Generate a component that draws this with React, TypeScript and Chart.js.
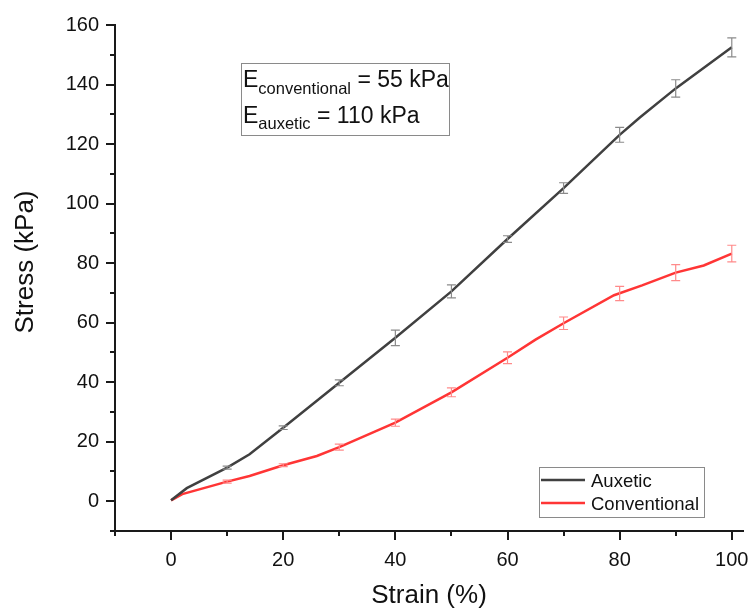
import { useEffect, useRef } from "react";
import { Chart, registerables } from "chart.js";
Chart.register(...registerables);

const auxeticStrain = [0, 2.8, 10, 14, 20, 30, 40, 50, 60, 70, 80, 83.6, 90, 100];
const auxeticStress = [0.3, 4.4, 11.3, 15.8, 24.7, 39.8, 54.9, 70.5, 88.1, 105.2, 123.1, 128.9, 138.7, 152.5];
const conventionalStrain = [0, 2, 10, 14, 20, 26, 30, 40, 50, 60, 65, 70, 79, 84, 90, 95, 100];
const conventionalStress = [0.3, 2.4, 6.6, 8.5, 12.1, 15.2, 18.2, 26.4, 36.6, 48.2, 54.3, 59.8, 69.2, 72.5, 76.8, 79.2, 83.2];

const errorStrain = [10, 20, 30, 40, 50, 60, 70, 80, 90, 100];
const auxeticMean = [11.3, 24.7, 39.8, 54.9, 70.5, 88.1, 105.2, 123.1, 138.7, 152.5];
const auxeticError = [0.5, 0.6, 1, 2.6, 2.2, 1.1, 1.8, 2.5, 2.9, 3.2];
const conventionalMean = [6.6, 12.1, 18.2, 26.4, 36.6, 48.2, 59.8, 69.8, 76.8, 83.2];
const conventionalError = [0.5, 0.5, 1, 1.2, 1.5, 2, 2.1, 2.4, 2.7, 2.8];

const xMajorTicks = [0, 20, 40, 60, 80, 100];
const xMinorTicks = [-10, 10, 30, 50, 70, 90];
const yMajorTicks = [0, 20, 40, 60, 80, 100, 120, 140, 160];
const yMinorTicks = [-10, 10, 30, 50, 70, 90, 110, 130, 150];

const seriesLabels = ["Auxetic", "Conventional"];
const FONT = "'Liberation Sans', Arial, sans-serif";
const AUX_COLOR = "#404040";
const CON_COLOR = "#ff3535";

const overlay = {
  id: "overlay",
  afterDatasetsDraw(chart: any) {
    const ctx = chart.ctx as CanvasRenderingContext2D;
    const xs = chart.scales.x;
    const ys = chart.scales.y;
    const area = chart.chartArea;
    ctx.save();
    ctx.strokeStyle = "#1a1a1a";
    ctx.lineWidth = 2;
    const axisX = area.left;
    const axisY = area.bottom;
    xMajorTicks.forEach((v) => {
      const p = Math.round(xs.getPixelForValue(v));
      ctx.beginPath(); ctx.moveTo(p, axisY); ctx.lineTo(p, axisY + 9); ctx.stroke();
    });
    xMinorTicks.forEach((v) => {
      const p = Math.round(xs.getPixelForValue(v));
      ctx.beginPath(); ctx.moveTo(p, axisY); ctx.lineTo(p, axisY + 5); ctx.stroke();
    });
    yMajorTicks.forEach((v) => {
      const p = Math.round(ys.getPixelForValue(v));
      ctx.beginPath(); ctx.moveTo(axisX, p); ctx.lineTo(axisX - 9, p); ctx.stroke();
    });
    yMinorTicks.forEach((v) => {
      const p = Math.round(ys.getPixelForValue(v));
      ctx.beginPath(); ctx.moveTo(axisX, p); ctx.lineTo(axisX - 5, p); ctx.stroke();
    });

    const drawErr = (means: number[], errs: number[], color: string) => {
      ctx.strokeStyle = color;
      ctx.lineWidth = 1.2;
      errorStrain.forEach((x, i) => {
        const px = xs.getPixelForValue(x);
        const top = ys.getPixelForValue(means[i] + errs[i]);
        const bot = ys.getPixelForValue(means[i] - errs[i]);
        ctx.beginPath();
        ctx.moveTo(px, top); ctx.lineTo(px, bot);
        ctx.moveTo(px - 4.5, top); ctx.lineTo(px + 4.5, top);
        ctx.moveTo(px - 4.5, bot); ctx.lineTo(px + 4.5, bot);
        ctx.stroke();
      });
    };
    drawErr(auxeticMean, auxeticError, "#8a8a8a");
    drawErr(conventionalMean, conventionalError, "#ff8a8a");

    // annotation box
    ctx.strokeStyle = "#8a8a8a";
    ctx.lineWidth = 1;
    ctx.strokeRect(241.5, 63.5, 208, 72);
    ctx.fillStyle = "#111";
    ctx.textBaseline = "alphabetic";
    ctx.textAlign = "left";
    const drawE = (sub: string, rest: string, baseline: number, subDrop: number) => {
      ctx.font = `23px ${FONT}`;
      ctx.fillText("E", 243, baseline);
      let x = 243 + ctx.measureText("E").width;
      ctx.font = `16.5px ${FONT}`;
      ctx.fillText(sub, x, baseline + subDrop);
      x += ctx.measureText(sub).width;
      ctx.font = `23px ${FONT}`;
      ctx.fillText(" " + rest, x, baseline);
    };
    drawE("conventional", "= 55 kPa", 87, 7);
    drawE("auxetic", "= 110 kPa", 123, 6);

    // legend
    ctx.strokeStyle = "#8a8a8a";
    ctx.lineWidth = 1;
    ctx.strokeRect(539.5, 467.5, 165, 50);
    ctx.lineWidth = 2.5;
    ctx.strokeStyle = AUX_COLOR;
    ctx.beginPath(); ctx.moveTo(541, 480); ctx.lineTo(585, 480); ctx.stroke();
    ctx.strokeStyle = CON_COLOR;
    ctx.beginPath(); ctx.moveTo(541, 503); ctx.lineTo(585, 503); ctx.stroke();
    ctx.fillStyle = "#111";
    ctx.font = `18.5px ${FONT}`;
    ctx.fillText(seriesLabels[0], 591, 487);
    ctx.fillText(seriesLabels[1], 591, 510);

    // axis titles
    ctx.font = `26px ${FONT}`;
    ctx.textAlign = "center";
    ctx.fillText("Strain (%)", (area.left + area.right) / 2, 603);
    ctx.save();
    ctx.translate(33, 262);
    ctx.rotate(-Math.PI / 2);
    ctx.fillText("Stress (kPa)", 0, 0);
    ctx.restore();
    ctx.restore();
  },
};

export default function App() {
  const ref = useRef<HTMLCanvasElement | null>(null);
  useEffect(() => {
    if (!ref.current) return;
    const chart = new Chart(ref.current, {
      type: "line",
      data: {
        datasets: [
          {
            label: seriesLabels[0],
            data: auxeticStrain.map((x, i) => ({ x, y: auxeticStress[i] })),
            borderColor: AUX_COLOR,
            borderWidth: 2.5,
            pointRadius: 0,
            tension: 0,
            fill: false,
          },
          {
            label: seriesLabels[1],
            data: conventionalStrain.map((x, i) => ({ x, y: conventionalStress[i] })),
            borderColor: CON_COLOR,
            borderWidth: 2.5,
            pointRadius: 0,
            tension: 0,
            fill: false,
          },
        ],
      },
      options: {
        animation: false,
        responsive: false,
        maintainAspectRatio: false,
        layout: { padding: { left: 0, right: 8, top: 25, bottom: 0 } },
        plugins: { legend: { display: false }, tooltip: { enabled: false } },
        scales: {
          x: {
            type: "linear",
            min: -10,
            max: 102,
            grid: { display: false, drawTicks: false },
            border: { display: true, color: "#1a1a1a", width: 2 },
            afterBuildTicks: (s: any) => { s.ticks = xMajorTicks.map((v) => ({ value: v })); },
            afterFit: (s: any) => { s.height = 610 - 531; s.paddingLeft = 0; s.paddingRight = 0; },
            ticks: { padding: 17, color: "#111", font: { family: FONT, size: 20 }, maxRotation: 0, autoSkip: false },
          },
          y: {
            type: "linear",
            min: -10,
            max: 160,
            grid: { display: false, drawTicks: false },
            border: { display: true, color: "#1a1a1a", width: 2 },
            afterBuildTicks: (s: any) => { s.ticks = yMajorTicks.map((v) => ({ value: v })); },
            afterFit: (s: any) => { s.width = 115; s.paddingTop = 0; s.paddingBottom = 0; },
            ticks: { padding: 16, color: "#111", font: { family: FONT, size: 20 }, autoSkip: false },
          },
        },
      },
      plugins: [overlay],
    });
    return () => chart.destroy();
  }, []);
  return (
    <div style={{ position: "absolute", left: 0, top: 0, width: 751, height: 610, background: "#fff" }}>
      <canvas ref={ref} width={751} height={610} style={{ width: 751, height: 610 }} />
    </div>
  );
}
